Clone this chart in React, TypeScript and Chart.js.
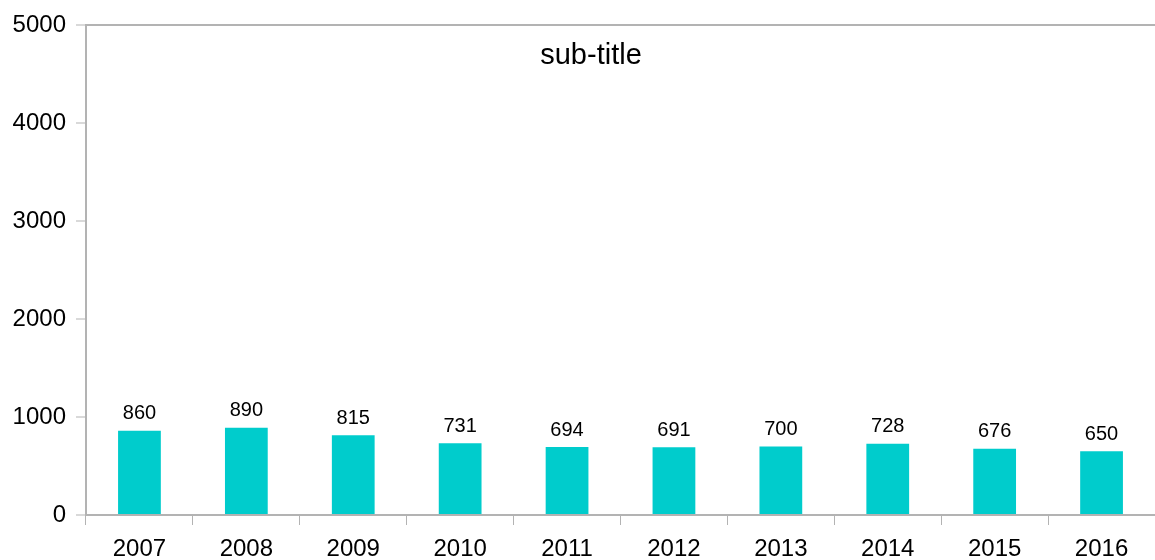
import React, { useEffect, useRef } from "react";
import { Chart, registerables } from "chart.js";

Chart.register(...registerables);

const categories = ["2007", "2008", "2009", "2010", "2011", "2012", "2013", "2014", "2015", "2016"];
const values = [860, 890, 815, 731, 694, 691, 700, 728, 676, 650];
const yTicks = [0, 1000, 2000, 3000, 4000, 5000];
const subTitle = "sub-title";

const FONT = "'Liberation Sans', Arial, sans-serif";
const AXIS = "#b3b3b3";

const labelPlugin = {
  id: "valueLabels",
  afterDatasetsDraw(chart: any) {
    const ctx = chart.ctx;
    const meta = chart.getDatasetMeta(0);
    ctx.save();
    ctx.font = `20px ${FONT}`;
    ctx.fillStyle = "#000";
    ctx.textAlign = "center";
    ctx.textBaseline = "bottom";
    meta.data.forEach((el: any, i: number) => {
      ctx.fillText(String(values[i]), el.x, el.y - 7);
    });
    ctx.restore();
  },
};

const subTitlePlugin = {
  id: "innerSubTitle",
  afterDraw(chart: any) {
    const ctx = chart.ctx;
    ctx.save();
    ctx.font = `29px ${FONT}`;
    ctx.fillStyle = "#000";
    ctx.textAlign = "center";
    ctx.textBaseline = "middle";
    ctx.fillText(subTitle, 591, 56);
    ctx.restore();
  },
};

export default function App() {
  const ref = useRef<HTMLCanvasElement>(null);
  useEffect(() => {
    document.body.style.margin = "0";
    const chart = new Chart(ref.current!, {
      type: "bar",
      data: {
        labels: categories,
        datasets: [
          {
            data: values,
            backgroundColor: "#00cccc",
            barPercentage: 0.4,
            categoryPercentage: 1,
          },
        ],
      },
      options: {
        animation: false,
        responsive: false,
        maintainAspectRatio: false,
        layout: { padding: { top: 25, right: 0, left: 0, bottom: 0 } },
        plugins: { legend: { display: false }, tooltip: { enabled: false }, title: { display: false } },
        scales: {
          x: {
            offset: true,
            grid: {
              offset: true,
              drawOnChartArea: false,
              tickLength: 10,
              color: AXIS,
              lineWidth: 1,
            },
            border: { color: AXIS, width: 2 },
            ticks: { font: { family: FONT, size: 24 }, color: "#000", padding: 10, maxRotation: 0 },
            afterFit: (s: any) => {
              s.height = 45;
            },
          },
          y: {
            min: 0,
            max: 5000,
            afterBuildTicks: (s: any) => {
              s.ticks = yTicks.map((v) => ({ value: v }));
            },
            grid: {
              drawOnChartArea: true,
              tickLength: 10,
              color: (c: any) => (c.tick && c.tick.value === 5000 ? AXIS : "rgba(0,0,0,0)"),
              lineWidth: 2,
              tickColor: AXIS,
              tickWidth: 1,
            },
            border: { color: AXIS, width: 2 },
            ticks: {
              font: { family: FONT, size: 24 },
              color: "#000",
              padding: 10,
              callback: (v: any) => String(v),
            },
            afterFit: (s: any) => {
              s.width = 86;
            },
          },
        },
      },
      plugins: [labelPlugin, subTitlePlugin],
    });
    return () => chart.destroy();
  }, []);
  return (
    <div style={{ width: 1155, height: 560 }}>
      <canvas ref={ref} width={1155} height={560} style={{ display: "block" }} />
    </div>
  );
}
